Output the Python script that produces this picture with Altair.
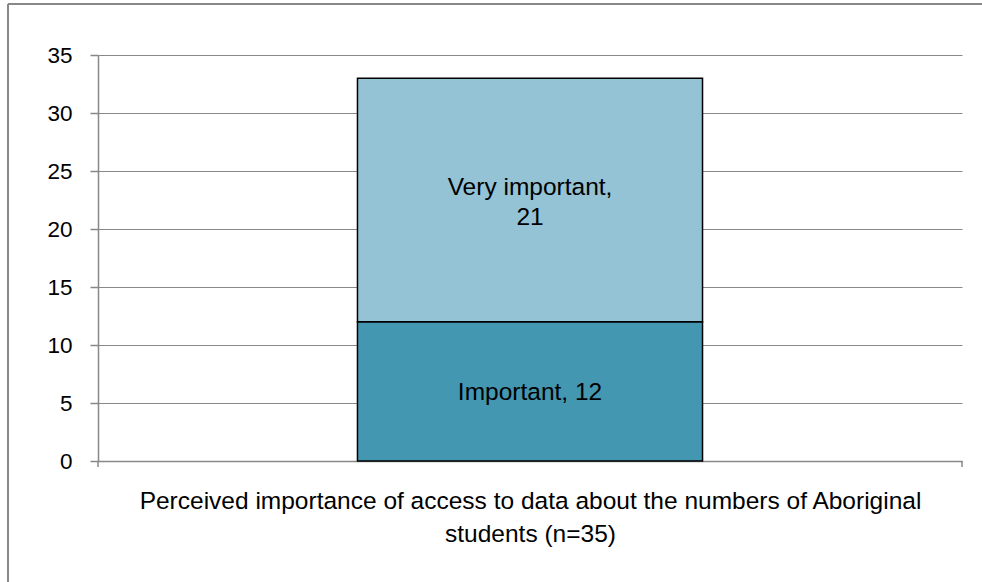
import altair as alt
import pandas as pd

categories = ["Important", "Very important"]
values = [12, 21]
labels = ["Important, 12", "Very important,\n21"]
order = [1, 2]
group = "Perceived importance of access to data about the numbers of Aboriginal students (n=35)"
title_lines = ["Perceived importance of access to data about the numbers of Aboriginal",
               "students (n=35)"]
y_ticks = [0, 5, 10, 15, 20, 25, 30, 35]

df = pd.DataFrame({"cat": categories, "value": values, "label": labels,
                   "order": order, "grp": [group] * len(categories)})

FONT = "Liberation Sans"
GRAY = "#888888"

W, H = 864, 406

base = alt.Chart(df).transform_stack(
    stack="value", as_=["y0", "y1"], groupby=["grp"], sort=[{"field": "order"}]
).transform_calculate(mid="(datum.y0 + datum.y1) / 2")

xenc = alt.X("grp:N",
             scale=alt.Scale(paddingInner=0, paddingOuter=0.752),
             axis=alt.Axis(labels=False, ticks=False, domain=True, domainColor=GRAY,
                           domainWidth=1.5, title=title_lines, titleFont=FONT,
                           titleFontSize=24.5, titleFontWeight="normal", titleColor="#000000",
                           titlePadding=28, titleLineHeight=33))

bars = base.mark_bar(stroke="#000000", strokeWidth=1.5).encode(
    x=xenc,
    y=alt.Y("y0:Q", scale=alt.Scale(domain=[0, 35], nice=False),
            axis=alt.Axis(values=y_ticks, grid=True, gridColor=GRAY, gridWidth=1,
                          domainColor=GRAY, domainWidth=1.5, tickColor=GRAY, tickSize=8,
                          tickWidth=1.5, labelFont=FONT, labelFontSize=22.5,
                          labelColor="#000000", labelPadding=18, title=None)),
    y2="y1:Q",
    color=alt.Color("cat:N", scale=alt.Scale(domain=categories,
                                             range=["#4397B1", "#93C3D5"]), legend=None),
)

text_style = dict(font=FONT, fontSize=24.5, color="#000000", lineBreak="\n",
                  lineHeight=30, baseline="middle")
texts_single = base.transform_filter("indexof(datum.label, '\\n') < 0").mark_text(
    **text_style, dy=2).encode(x="grp:N", y="mid:Q", text="label:N")
texts_multi = base.transform_filter("indexof(datum.label, '\\n') >= 0").mark_text(
    **text_style, dy=-12).encode(x="grp:N", y="mid:Q", text="label:N")

one = alt.Data(values=[{"k": 1}])
frame_left = alt.Chart(one).mark_rule(color=GRAY, strokeWidth=2).encode(
    x=alt.value(-90), y=alt.value(-51), y2=alt.value(540))
frame_top = alt.Chart(one).mark_rule(color=GRAY, strokeWidth=2).encode(
    x=alt.value(-90), x2=alt.value(900), y=alt.value(-51))
tick_l = alt.Chart(one).mark_rule(color=GRAY, strokeWidth=1.5).encode(
    x=alt.value(0), y=alt.value(H), y2=alt.value(H + 6))
tick_r = alt.Chart(one).mark_rule(color=GRAY, strokeWidth=1.5).encode(
    x=alt.value(W), y=alt.value(H), y2=alt.value(H + 6))

chart = alt.layer(bars, texts_single, texts_multi, tick_l, tick_r, frame_left, frame_top).properties(
    width=W, height=H,
    autosize=alt.AutoSizeParams(type="none"),
    padding={"left": 98, "top": 55, "right": 20, "bottom": 121},
    background="white",
).configure_view(stroke=None)

chart.save("out.html", embed_options={"renderer": "svg", "actions": False})
